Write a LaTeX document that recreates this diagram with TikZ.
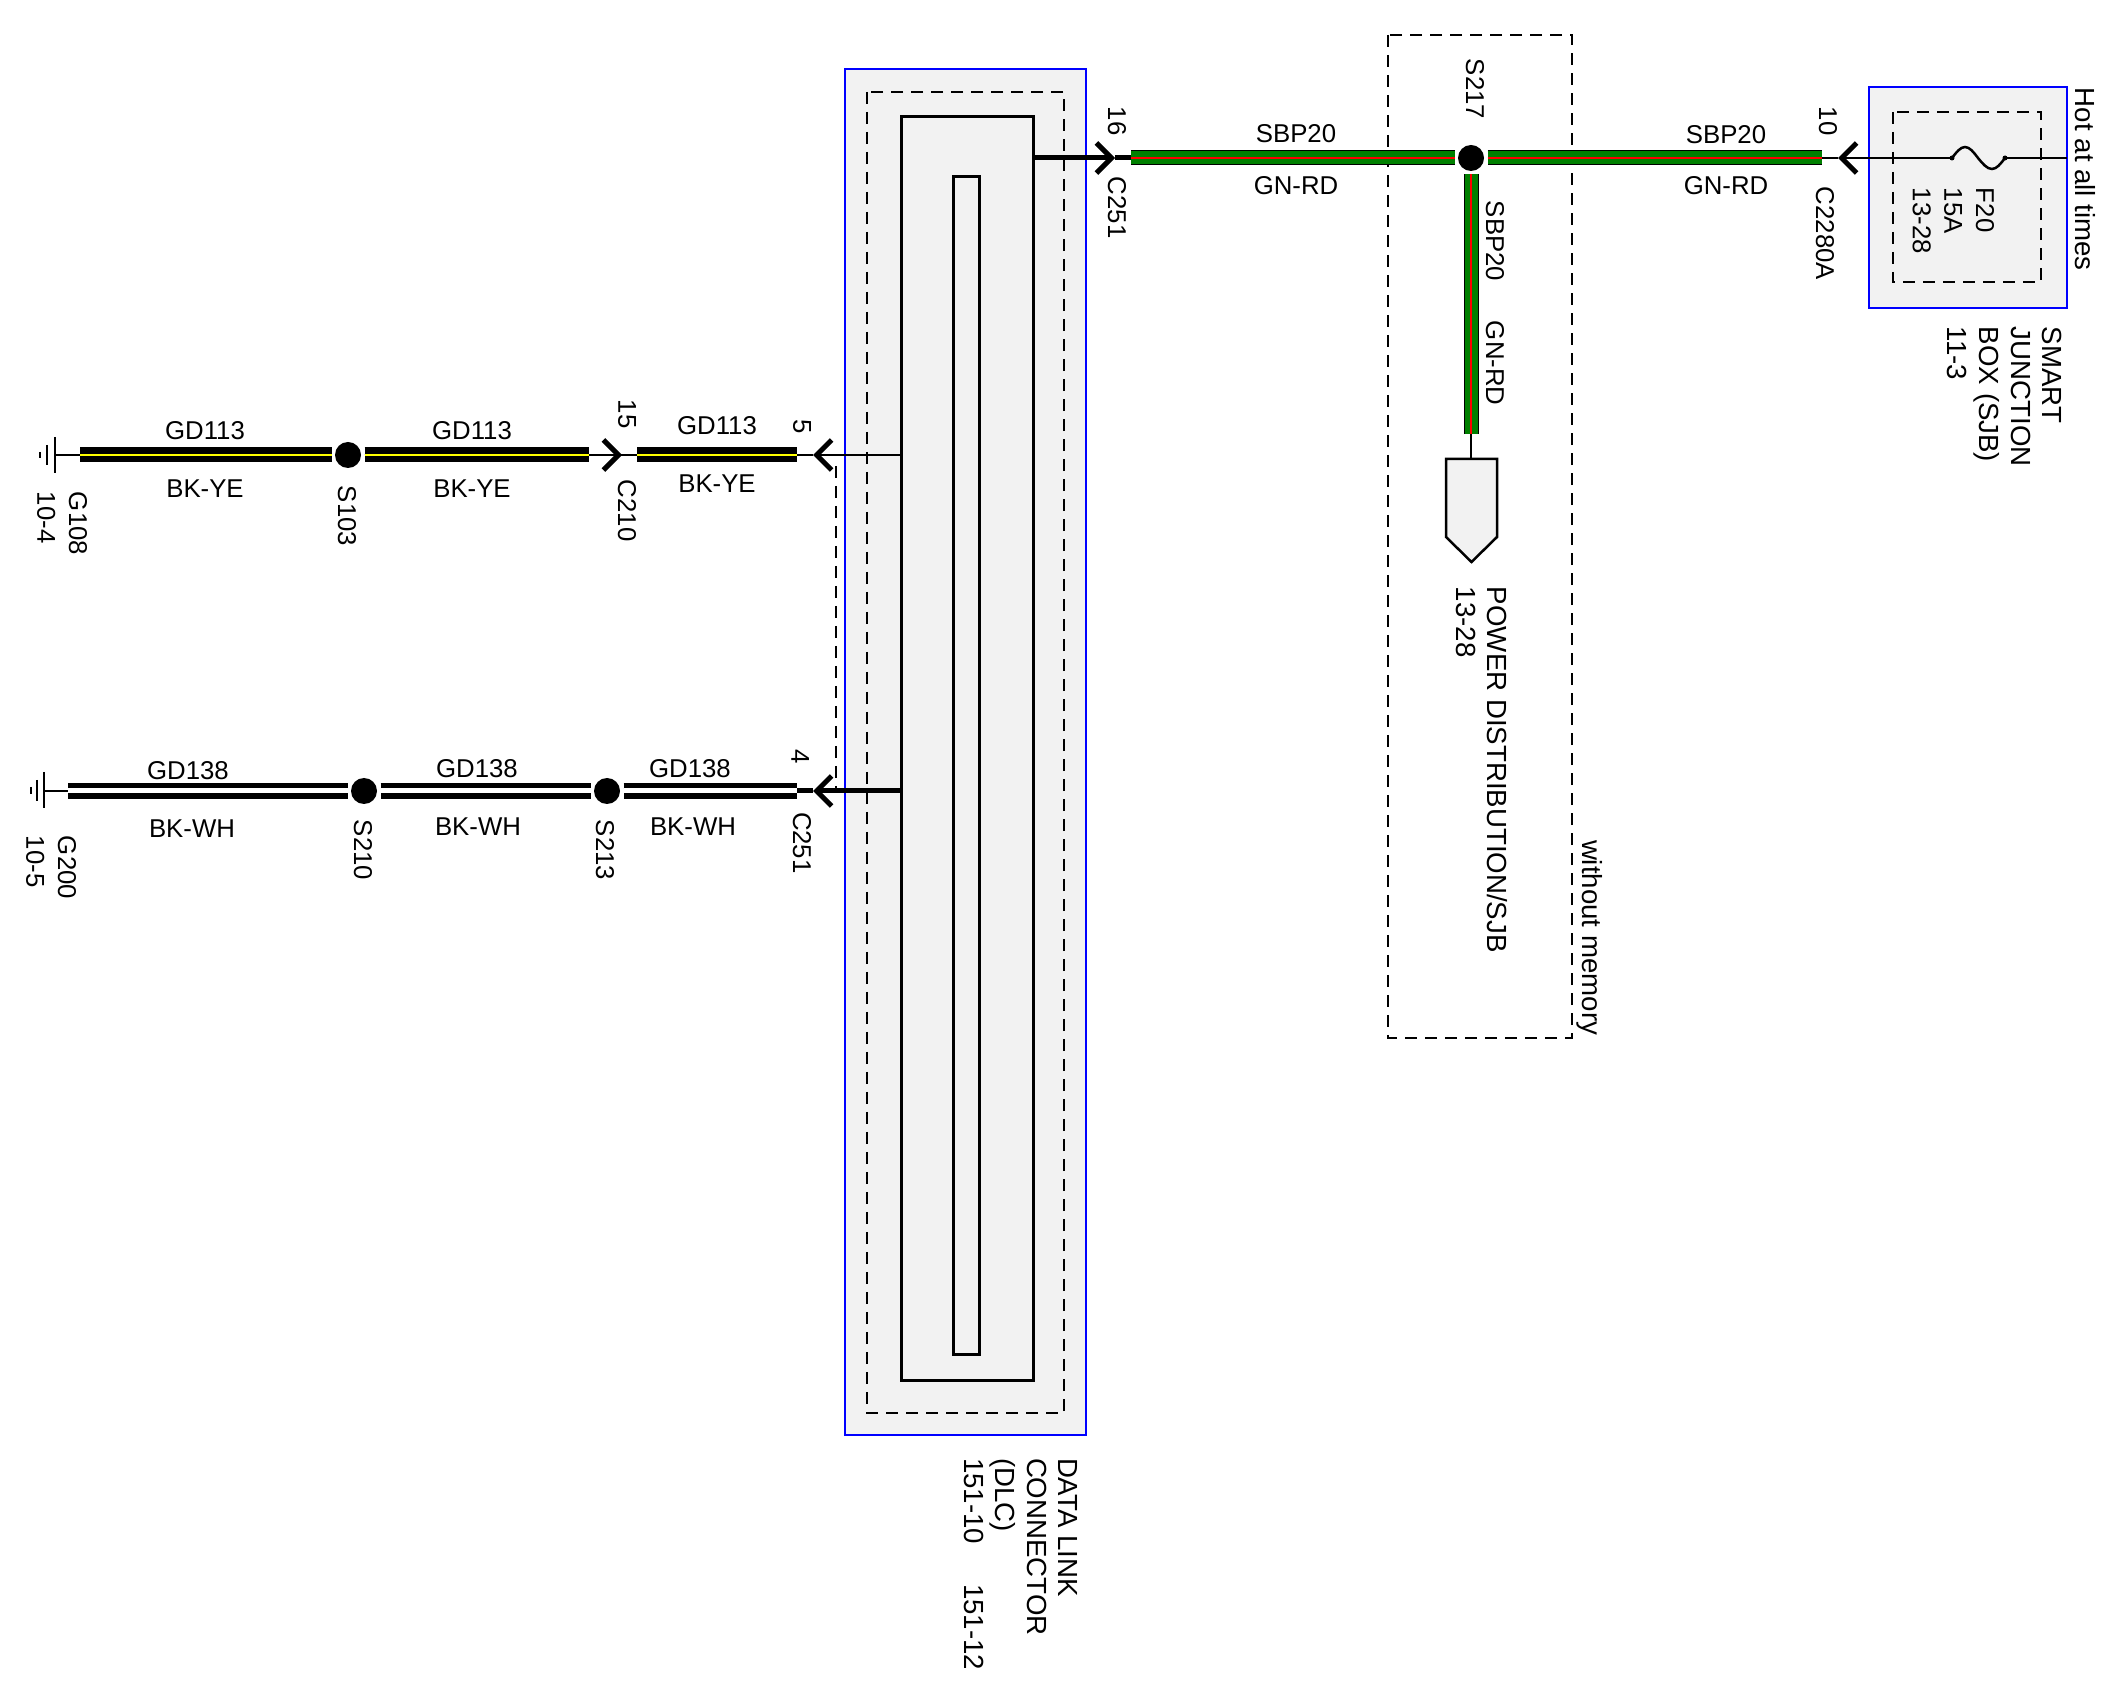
\documentclass[tikz,border=0pt]{standalone}
\usepackage{fontspec}
\setmainfont{Liberation Sans}
\usetikzlibrary{arrows.meta}
\newlength{\unitpx}
\setlength{\unitpx}{0.015cm}
\definecolor{boxgray}{HTML}{F2F2F2}
\definecolor{gnwire}{HTML}{008000}
\definecolor{yewire}{HTML}{FFFF00}
\tikzset{
  wbkye/.style={draw=black,line width=15\unitpx,postaction={draw=yewire,line width=2.5\unitpx}},
  wbkwh/.style={draw=black,line width=16\unitpx,postaction={draw=white,line width=5\unitpx}},
  wgnrd/.style={draw=black,line width=15\unitpx,postaction={draw=gnwire,line width=13\unitpx},postaction={draw=red,line width=2\unitpx}},
  thinw/.style={line width=1.6\unitpx},
  thickw/.style={line width=5\unitpx},
  splice/.style={circle,fill=black,inner sep=0pt,outer sep=3.5\unitpx,minimum size=26\unitpx},
  barb/.style={-{Straight Barb[length=0.225cm,width=0.45cm,line width=0.075cm]}},
  lbl/.style={inner sep=0pt,anchor=base},
  vlbl/.style={inner sep=0pt,outer sep=0pt,rotate=-90,anchor=north west,align=left},
  clbl/.style={vlbl,font=\fontsize{11.8}{13.5}\selectfont},
  dashbox/.style={line width=2\unitpx,dash pattern=on 12\unitpx off 8\unitpx},
  bluebox/.style={draw=blue,line width=2.5\unitpx,fill=boxgray},
}
\begin{document}
\begin{tikzpicture}[x=0.015cm,y=-0.015cm,font=\fontsize{11}{13.5}\selectfont]
\useasboundingbox (0,0) rectangle (2116,1700);

% data link connector
\draw[bluebox] (845,69) rectangle (1086,1435);
\draw[dashbox] (867,92) rectangle (1064,1413);
\node[draw,line width=3\unitpx,fill=boxgray,inner sep=0pt,outer sep=0pt,minimum width=132\unitpx,minimum height=1263\unitpx] (dlcbody) at (967,748.5) {};
\node[draw,line width=3\unitpx,fill=boxgray,inner sep=0pt,outer sep=0pt,minimum width=26\unitpx,minimum height=1177\unitpx] (dlcpins) at (966,765.5) {};
\node[clbl] (dlclbl) at (1078,1458) {DATA LINK\\CONNECTOR\\(DLC)\\151-10\hspace{0.6cm}151-12};

% smart junction box
\draw[bluebox] (1869,87) rectangle (2067,308);
\draw[dashbox] (1893,112) rectangle (2041,282);
\node[clbl] (sjblbl) at (2062,327) {SMART\\JUNCTION\\BOX (SJB)\\11-3};
\node[vlbl] (f20lbl) at (1994,188) {F20\\15A\\13-28};
\node[clbl] (hotlbl) at (2096,88) {Hot at all times};

% S217 area
\draw[dashbox,line width=1.5\unitpx] (1388,35) rectangle (1572,1038);
\node[clbl] (memlbl) at (1603,840) {without memory};

% ground G108 row
\coordinate (g108) at (55,455);
\node[splice] (s103) at (348,455) {};
\coordinate (c210) at (622,455);
\coordinate (p5) at (813,455);
\draw[thinw] (55,437) -- (55,473);
\draw[thinw] (47,445) -- (47,465);
\draw[line width=2.5\unitpx] (40,452) -- (40,458);
\draw[thinw] (g108) -- (s103);
\draw[thinw] (s103) -- (p5);
\draw[thinw,barb] (s103) -- (c210);
\draw[wbkye,shorten <=25\unitpx] (g108) -- (s103);
\draw[wbkye,shorten >=33\unitpx] (s103) -- (c210);
\draw[wbkye,shorten <=15\unitpx,shorten >=16\unitpx] (c210) -- (p5);
\draw[thinw,barb] (dlcbody.west |- p5) -- (p5);

\node[lbl] at (205,440) {GD113};
\node[lbl] at (205,498) {BK-YE};
\node[lbl] at (472,440) {GD113};
\node[lbl] at (472,498) {BK-YE};
\node[lbl] at (717,435) {GD113};
\node[lbl] at (717,493) {BK-YE};
\node[vlbl] at (87,492) {G108\\10-4};
\node[vlbl] at (356,486) {S103};
\node[vlbl] at (636,400) {15};
\node[vlbl] at (636,480) {C210};
\node[vlbl] at (811,420) {5};

% ground G200 row
\coordinate (g200) at (44,791);
\node[splice] (s210) at (364,791) {};
\node[splice] (s213) at (607,791) {};
\coordinate (p4) at (813,791);
\draw[thinw] (44,772) -- (44,808);
\draw[thinw] (37,780) -- (37,801);
\draw[line width=2.5\unitpx] (31,787) -- (31,794);
\draw[thinw] (g200) -- (s210);
\draw[thickw] (s213) -- (p4);
\draw[wbkwh,shorten <=24\unitpx] (g200) -- (s210);
\draw[wbkwh] (s210) -- (s213);
\draw[wbkwh,shorten >=16\unitpx] (s213) -- (p4);
\draw[thickw,barb] (dlcbody.west |- p4) -- (p4);
\draw[thinw,dash pattern=on 12\unitpx off 8\unitpx] (836,466) -- (836,788);

\node[lbl] at (188,780) {GD138};
\node[lbl] at (192,838) {BK-WH};
\node[lbl] at (477,778) {GD138};
\node[lbl] at (478,836) {BK-WH};
\node[lbl] at (690,778) {GD138};
\node[lbl] at (693,836) {BK-WH};
\node[vlbl] at (76,836) {G200\\10-5};
\node[vlbl] at (372,820) {S210};
\node[vlbl] at (614,820) {S213};
\node[vlbl] at (809,750) {4};
\node[vlbl] at (811,812) {C251};

% SBP20 feed
\coordinate (p16) at (1115,158);
\coordinate (gn1) at (1131,158);
\node[splice] (s217) at (1471,158) {};
\coordinate (gn2) at (1822,158);
\coordinate (c2280a) at (1838,158);
\coordinate (fusel) at (1952,158);
\coordinate (fuser) at (2005,158);
\coordinate (sjbr) at (2067,158);
\coordinate (gn3) at (1471,434);
\coordinate (pdtop) at (1471,459);
\draw[thickw,barb] (dlcbody.east |- p16) -- (p16);
\draw[thickw] (p16) -- (gn1);
\draw[wgnrd] (gn1) -- (s217);
\draw[wgnrd] (s217) -- (gn2);
\draw[thinw] (gn2) -- (c2280a);
\draw[thinw,barb] (fusel) -- (c2280a);
\draw[line width=2.5\unitpx] (fusel) sin (1965,147) cos (1978,158) sin (1992,169) cos (fuser);
\fill (fusel) circle (2.5\unitpx);
\fill (fuser) circle (2.5\unitpx);
\draw[thinw] (fuser) -- (sjbr);
\draw[wgnrd] (s217) -- (gn3);
\draw[thinw] (gn3) -- (pdtop);
\draw[line width=2.5\unitpx,fill=boxgray] (1446,459) -- (1497,459) -- (1497,537) -- (1471.5,562) -- (1446,537) -- cycle;

\node[lbl] at (1296,143) {SBP20};
\node[lbl] at (1296,195) {GN-RD};
\node[lbl] at (1726,144) {SBP20};
\node[lbl] at (1726,195) {GN-RD};
\node[vlbl] at (1126,107) {16};
\node[vlbl] at (1126,177) {C251};
\node[vlbl] at (1484,59) {S217};
\node[vlbl] at (1504,201) {SBP20};
\node[vlbl] at (1504,321) {GN-RD};
\node[vlbl] at (1837,107) {10};
\node[vlbl] at (1834,187) {C2280A};
\node[clbl] (pdlbl) at (1508,587) {POWER DISTRIBUTION/SJB\\13-28};

\end{tikzpicture}
\end{document}
